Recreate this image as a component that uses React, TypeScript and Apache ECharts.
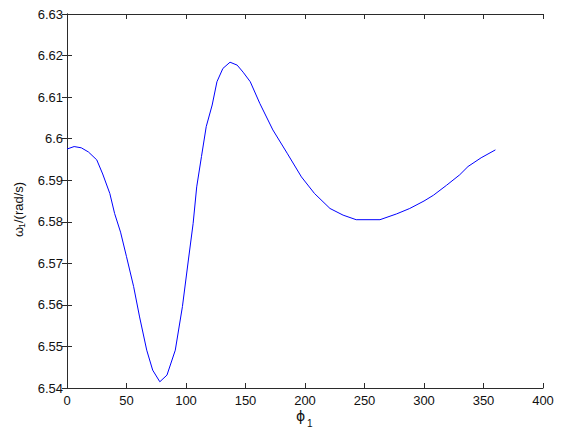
import React, { useEffect, useRef } from "react";
import * as echarts from "echarts";

const phi: number[] = [0, 6, 12, 18, 25, 30, 36, 40, 45, 50, 56, 61, 67, 72, 78, 84, 91, 97, 102, 106, 109, 113, 117, 122, 126, 131, 137, 143, 148, 154, 162, 173, 185, 197, 208, 221, 232, 243, 263, 277, 288, 300, 308, 319, 330, 337, 348, 360];
const omega: number[] = [6.5975, 6.5981, 6.5978, 6.5968, 6.5949, 6.5915, 6.5868, 6.582, 6.5775, 6.5716, 6.5644, 6.5571, 6.5491, 6.5443, 6.5415, 6.5431, 6.5491, 6.5596, 6.5708, 6.5796, 6.5884, 6.5957, 6.6029, 6.6081, 6.6137, 6.6169, 6.6184, 6.6177, 6.616, 6.6137, 6.6085, 6.6021, 6.5965, 6.5908, 6.5868, 6.5832, 6.5816, 6.5805, 6.5805, 6.5819, 6.5832, 6.585, 6.5864, 6.5888, 6.5913, 6.5933, 6.5954, 6.5973];

const xTicks = { min: 0, max: 400, interval: 50 };
const yTicks = { min: 6.54, max: 6.63, interval: 0.01 };

const FONT = "Liberation Sans, Arial, sans-serif";
const AXIS_COLOR = "#2b2b2b";

export default function App() {
  const ref = useRef<HTMLDivElement>(null);
  useEffect(() => {
    if (!ref.current) return;
    const chart = echarts.init(ref.current, undefined, { renderer: "svg" });
    const axisCommon = {
      axisLine: { show: true, lineStyle: { color: AXIS_COLOR, width: 1 } },
      axisTick: { show: true, inside: true, length: 5, lineStyle: { color: AXIS_COLOR } },
      splitLine: { show: false },
    };
    const fmtY = (v: number) => parseFloat(v.toFixed(2)).toString();
    chart.setOption({
      animation: false,
      backgroundColor: "#ffffff",
      grid: { left: 67, right: 32, top: 14, bottom: 45, containLabel: false },
      xAxis: [
        {
          type: "value",
          position: "bottom",
          min: xTicks.min,
          max: xTicks.max,
          interval: xTicks.interval,
          ...axisCommon,
          axisLabel: { color: "#111", fontFamily: FONT, fontSize: 13, margin: 6 },
        },
        {
          type: "value",
          position: "top",
          min: xTicks.min,
          max: xTicks.max,
          interval: xTicks.interval,
          ...axisCommon,
          axisLabel: { show: false },
        },
      ],
      yAxis: [
        {
          type: "value",
          position: "left",
          min: yTicks.min,
          max: yTicks.max,
          interval: yTicks.interval,
          ...axisCommon,
          axisLabel: { color: "#111", fontFamily: FONT, fontSize: 13, margin: 4, formatter: fmtY },
        },
        {
          type: "value",
          position: "right",
          min: yTicks.min,
          max: yTicks.max,
          interval: yTicks.interval,
          ...axisCommon,
          axisLabel: { show: false },
        },
      ],
      series: [
        {
          type: "line",
          data: phi.map((p, i) => [p, omega[i]]),
          showSymbol: false,
          symbol: "none",
          lineStyle: { color: "#0000ff", width: 1 },
          xAxisIndex: 0,
          yAxisIndex: 0,
        },
      ],
      graphic: [
        {
          type: "group",
          x: 18,
          y: 203,
          rotation: Math.PI / 2,
          children: [
            {
              type: "text",
              x: -34,
              y: 0,
              style: { text: "ω", font: `13px ${FONT}`, fill: "#111", textVerticalAlign: "middle" },
            },
            {
              type: "text",
              x: -25,
              y: 4,
              style: { text: "1", font: `9px ${FONT}`, fill: "#111", textVerticalAlign: "middle" },
            },
            {
              type: "text",
              x: -20,
              y: 0,
              style: { text: "/(rad/s)", font: `13px ${FONT}`, fill: "#111", textVerticalAlign: "middle" },
            },
          ],
        },
        {
          type: "text",
          left: 296,
          top: 409,
          style: { text: "ϕ", font: `14px DejaVu Sans, ${FONT}`, fill: "#111" },
        },
        {
          type: "text",
          left: 307,
          top: 418,
          style: { text: "1", font: `10px ${FONT}`, fill: "#111" },
        },
      ],
    });
    return () => chart.dispose();
  }, []);
  return (
    <div
      ref={ref}
      style={{ position: "fixed", left: 0, top: 0, width: 575, height: 433, background: "#fff" }}
    />
  );
}
